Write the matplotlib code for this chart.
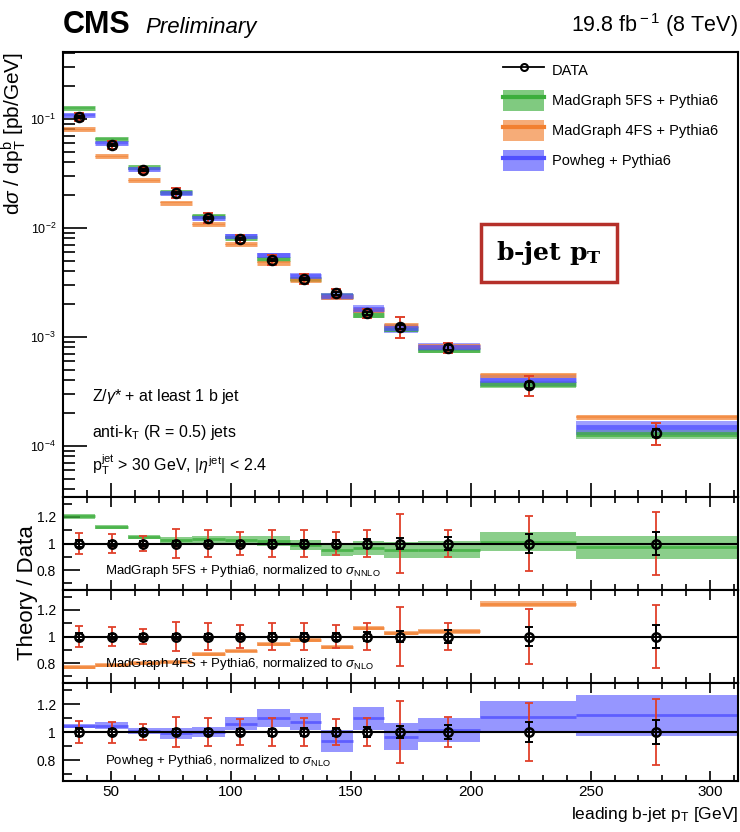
import numpy as np
import matplotlib
matplotlib.use("Agg")
import matplotlib.pyplot as plt
from matplotlib.lines import Line2D
from matplotlib.patches import Patch
from matplotlib.ticker import MultipleLocator, LogLocator, NullFormatter, FixedLocator

plt.rcParams['font.family'] = ['Liberation Sans', 'DejaVu Sans']
plt.rcParams['mathtext.fontset'] = 'custom'
plt.rcParams['mathtext.rm'] = 'Liberation Sans'
plt.rcParams['mathtext.it'] = 'Liberation Sans:italic'
plt.rcParams['mathtext.bf'] = 'Liberation Sans:bold'

# bins in leading b-jet pT (GeV)
edges = [30, 43.5, 57, 70.5, 84, 97.5, 111, 124.5, 137.5, 151, 164, 178, 204, 244, 311.5]
pt = [36.7, 50.4, 63.3, 77.1, 90.4, 103.8, 117.1, 130.4, 143.8, 156.7, 170.4, 190.4, 224.2, 277.5]

# measured cross section (pb/GeV) and relative errors
xsec = [0.104, 0.0577, 0.0341, 0.0209, 0.0124, 0.0079, 0.00508, 0.0034, 0.00252,
        0.00165, 0.00124, 0.000798, 0.000363, 0.000132]
err_stat = [0.03, 0.02, 0.02, 0.02, 0.02, 0.02, 0.025, 0.03, 0.03, 0.035, 0.045, 0.05, 0.07, 0.085]
err_tot = [0.08, 0.075, 0.06, 0.11, 0.10, 0.09, 0.10, 0.10, 0.09, 0.10, 0.22, 0.105, 0.205, 0.235]

# theory / data ratios and their relative uncertainties
mg5_ratio = [1.204, 1.126, 1.049, 1.026, 1.032, 1.03, 1.018, 0.99, 0.95, 0.965, 0.95, 0.954, 1.014, 0.97]
mg5_unc = [0.016, 0.016, 0.016, 0.024, 0.025, 0.028, 0.035, 0.04, 0.045, 0.055, 0.06, 0.066, 0.069, 0.0875]
mg4_ratio = [0.77, 0.785, 0.80, 0.81, 0.868, 0.893, 0.945, 0.972, 0.922, 1.062, 1.026, 1.038, 1.244, 1.40]
mg4_unc = [0.012, 0.012, 0.012, 0.012, 0.013, 0.013, 0.014, 0.014, 0.015, 0.015, 0.018, 0.018, 0.02, 0.02]
pw_ratio = [1.042, 1.046, 1.01, 0.99, 1.0, 1.06, 1.10, 1.075, 0.935, 1.097, 0.966, 1.015, 1.107, 1.12]
pw_unc = [0.014, 0.025, 0.022, 0.039, 0.038, 0.047, 0.061, 0.059, 0.08, 0.085, 0.0975, 0.088, 0.114, 0.147]

GREEN = '#3cae3c'
ORANGE = '#f28030'
BLUE = '#5050ff'
RED = '#e0402a'

models = [
    ("MadGraph 5FS + Pythia6", mg5_ratio, mg5_unc, GREEN, r'MadGraph 5FS + Pythia6, normalized to $\sigma_{\rm NNLO}$'),
    ("MadGraph 4FS + Pythia6", mg4_ratio, mg4_unc, ORANGE, r'MadGraph 4FS + Pythia6, normalized to $\sigma_{\rm NLO}$'),
    ("Powheg + Pythia6", pw_ratio, pw_unc, BLUE, r'Powheg + Pythia6, normalized to $\sigma_{\rm NLO}$'),
]

e = np.array(edges)
x = np.array(pt)
d = np.array(xsec)
es = np.array(err_stat)
et = np.array(err_tot)

fig = plt.figure(figsize=(7.4, 8.32), dpi=100)
L, W = 63 / 740, 675 / 740
ax = fig.add_axes([L, 1 - 497 / 832, W, 445 / 832])
r1 = fig.add_axes([L, 1 - 590 / 832, W, 93 / 832])
r2 = fig.add_axes([L, 1 - 683 / 832, W, 93 / 832])
r3 = fig.add_axes([L, 1 - 781 / 832, W, 98 / 832])
rax = [r1, r2, r3]

# ---- main panel
handles = [Line2D([], [], color='k', lw=1.3, marker='o', mfc='none', mec='k', ms=5, mew=1.5)]
labels = ["DATA"]
for name, rat, unc, col, _ in models:
    c = d * np.array(rat)
    u = np.array(unc)
    ax.stairs(c * (1 + u), e, baseline=c * (1 - u), fill=True, color=col, alpha=0.55, lw=0)
    ax.hlines(c, e[:-1], e[1:], color=col, lw=3.5, alpha=0.75)
    handles.append((Patch(facecolor=col, alpha=0.65, edgecolor='none'), Line2D([], [], color=col, lw=3)))
    labels.append(name)

ax.errorbar(x, d, yerr=d * et, fmt='none', ecolor=RED, elinewidth=1.4, capsize=3.5, capthick=1.4, zorder=5)
ax.errorbar(x, d, yerr=d * es, fmt='none', ecolor='k', elinewidth=1.4, capsize=3, capthick=1.4, zorder=6)
ax.plot(x, d, 'o', mfc='none', mec='k', ms=6.5, mew=1.8, zorder=7)

ax.set_yscale('log')
ax.set_xlim(30, 311.5)
ax.set_ylim(3.4e-5, 0.41)
ax.yaxis.set_major_locator(LogLocator(base=10, numticks=10))
ax.yaxis.set_minor_locator(LogLocator(base=10, subs=np.arange(2, 10), numticks=20))
ax.yaxis.set_minor_formatter(NullFormatter())
ax.tick_params(axis='y', which='major', direction='in', length=17, width=1.2, labelsize=9, pad=5)
ax.tick_params(axis='y', which='minor', direction='in', length=8.5, width=1.2)
ax.xaxis.set_major_locator(MultipleLocator(50))
ax.xaxis.set_minor_locator(MultipleLocator(10))
ax.tick_params(axis='x', which='major', direction='in', length=10, width=1.2, labelbottom=False)
ax.tick_params(axis='x', which='minor', direction='in', length=5, width=1.2)
for s in ax.spines.values():
    s.set_linewidth(1.5)

ax.set_ylabel(r'd$\sigma$ / dp$_{\rm T}^{\rm b}$ [pb/GeV]', fontsize=15, loc='top')
ax.yaxis.set_label_coords(-0.052, 1.0)

leg = ax.legend(handles, labels, loc='upper left', bbox_to_anchor=(0.652, 0.983), frameon=False,
                fontsize=10.5, handlelength=2.8, handleheight=1.85, handletextpad=0.55,
                labelspacing=0.62, borderpad=0, borderaxespad=0)

ax.text(0.043, 0.225, r'Z/$\gamma$* + at least 1 b jet', transform=ax.transAxes, fontsize=11.5, va='center')
ax.text(0.043, 0.146, r'anti-k$_{\rm T}$ (R = 0.5) jets', transform=ax.transAxes, fontsize=11.5, va='center')
ax.text(0.043, 0.072, r'p$_{\rm T}^{\rm jet}$ > 30 GeV, |$\eta^{\rm jet}$| < 2.4', transform=ax.transAxes,
        fontsize=11.5, va='center')

ax.text(0.72, 0.548, r'b-jet $\mathbf{p_T}$', transform=ax.transAxes, ha='center', va='center',
        fontsize=18, family='DejaVu Serif', weight='bold', math_fontfamily='dejavuserif',
        bbox=dict(boxstyle='square,pad=0.6', fc='white', ec='#b5302a', lw=2.5))

# ---- ratio panels
for r, (name, rat, unc, col, txt) in zip(rax, models):
    c = np.array(rat)
    u = np.array(unc)
    r.stairs(c + u, e, baseline=c - u, fill=True, color=col, alpha=0.6, lw=0)
    r.hlines(c, e[:-1], e[1:], color=col, lw=2, alpha=0.8)
    r.axhline(1.0, color='k', lw=1.5, zorder=4)
    r.errorbar(x, np.ones_like(x), yerr=et, fmt='none', ecolor=RED, elinewidth=1.3, capsize=3, capthick=1.3, zorder=5)
    r.errorbar(x, np.ones_like(x), yerr=es, fmt='none', ecolor='k', elinewidth=1.4, capsize=3, capthick=1.4, zorder=6)
    r.plot(x, np.ones_like(x), 'o', mfc='none', mec='k', ms=6, mew=1.8, zorder=7)
    r.set_xlim(30, 311.5)
    r.set_ylim(0.65, 1.35)
    r.yaxis.set_major_locator(FixedLocator([0.8, 1.0, 1.2]))
    r.yaxis.set_minor_locator(FixedLocator([0.7, 0.9, 1.1, 1.3]))
    r.set_yticklabels(['0.8', '1', '1.2'])
    r.tick_params(axis='y', which='major', direction='in', length=12, width=1.2, labelsize=10, pad=5)
    r.tick_params(axis='y', which='minor', direction='in', length=6.5, width=1.2)
    r.xaxis.set_major_locator(MultipleLocator(50))
    r.xaxis.set_minor_locator(MultipleLocator(10))
    r.tick_params(axis='x', which='both', direction='in', top=True, bottom=True, width=1.2)
    r.tick_params(axis='x', which='major', length=7)
    r.tick_params(axis='x', which='minor', length=4)
    for s in r.spines.values():
        s.set_linewidth(1.5)
    r.text(0.062, 0.2, txt, transform=r.transAxes, fontsize=9.5, va='center', zorder=3)

r1.tick_params(axis='x', labelbottom=False)
r2.tick_params(axis='x', labelbottom=False)
r3.tick_params(axis='x', labelsize=11, pad=3)

fig.text(27 / 740, 1 - 593 / 832, 'Theory / Data', rotation=90, fontsize=16, ha='center', va='center')
fig.text(738 / 740, 1 - 815 / 832, r'leading b-jet p$_{\rm T}$ [GeV]', ha='right', va='center', fontsize=12.5)

fig.text(63 / 740, 1 - 25 / 832, 'CMS', fontsize=22, weight='bold', va='center')
fig.text(145 / 740, 1 - 27 / 832, 'Preliminary', fontsize=16, style='italic', va='center')
fig.text(738 / 740, 1 - 25 / 832, r'19.8 fb$^{\rm -1}$ (8 TeV)', fontsize=15.5, ha='right', va='center')

fig.savefig('out.png', dpi=100)
